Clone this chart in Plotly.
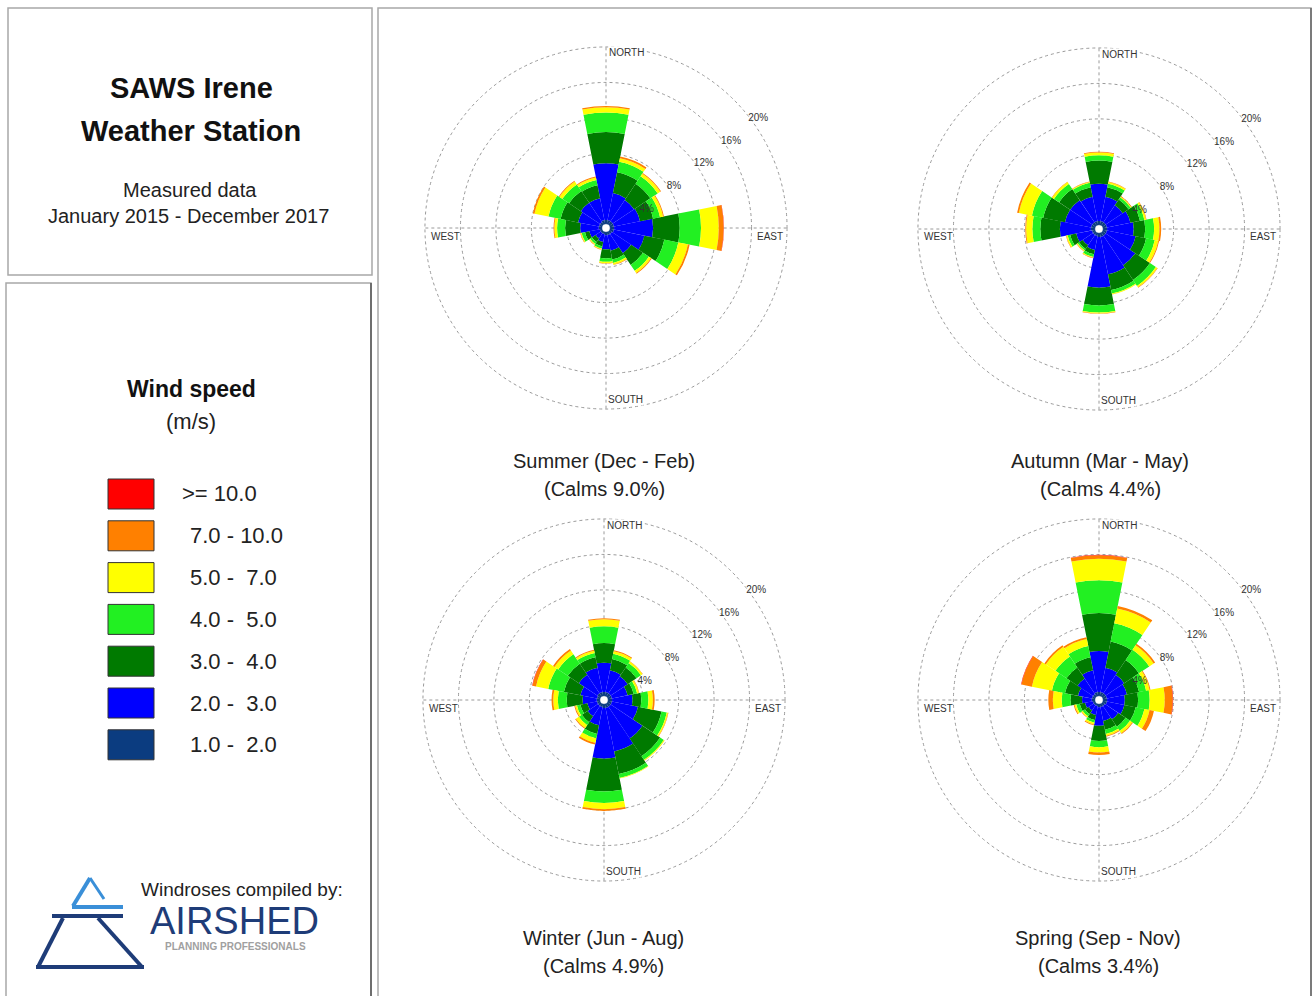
import plotly.graph_objects as go

W, H = 1314, 996

# ---------------- data ----------------
directions = ["N", "NNE", "NE", "ENE", "E", "ESE", "SE", "SSE",
              "S", "SSW", "SW", "WSW", "W", "WNW", "NW", "NNW"]

speed_labels = ["1.0 -  2.0", "2.0 -  3.0", "3.0 -  4.0", "4.0 -  5.0",
                "5.0 -  7.0", "7.0 - 10.0", ">= 10.0"]
speed_colors = ["#0b3c80", "#0000ff", "#007a00", "#22f022",
                "#ffff00", "#ff8000", "#ff0000"]

ring_values = [4, 8, 12, 16, 20]
ring_labels = ["4%", "8%", "12%", "16%", "20%"]

# frequency (%) per direction, per wind speed class
summer_1_2 = [0.5, 0.5, 0.5, 0.5, 0.5, 0.5, 0.4, 0.4, 0.4, 0.3, 0.3, 0.3, 0.4, 0.4, 0.4, 0.5]
summer_2_3 = [6.4, 3.1, 2.9, 3.0, 4.4, 3.5, 2.6, 1.8, 1.6, 0.9, 0.7, 1.2, 2.1, 2.4, 2.6, 2.5]
summer_3_4 = [3.5, 2.4, 2.2, 1.5, 3.0, 2.3, 1.6, 1.0, 1.0, 0.5, 0.5, 0.5, 1.7, 2.0, 1.6, 1.5]
summer_4_5 = [2.2, 1.2, 1.0, 0.8, 2.4, 1.6, 0.8, 0.4, 0.4, 0.25, 0.25, 0.4, 0.9, 1.4, 0.9, 0.6]
summer_5_7 = [0.6, 0.4, 0.35, 0.35, 2.0, 1.1, 0.3, 0.2, 0.15, 0.1, 0.1, 0.1, 0.3, 1.6, 0.4, 0.3]
summer_7_10 = [0.15, 0.2, 0.1, 0.1, 0.55, 0.2, 0.1, 0.05, 0.05, 0.05, 0.05, 0.05, 0.1, 0.2, 0.1, 0.1]
summer_10 = [0, 0, 0, 0, 0.03, 0, 0, 0, 0, 0, 0, 0, 0, 0, 0, 0]

autumn_1_2 = [0.5, 0.5, 0.5, 0.5, 0.5, 0.5, 0.5, 0.5, 0.5, 0.4, 0.4, 0.4, 0.5, 0.5, 0.5, 0.5]
autumn_2_3 = [4.2, 2.8, 2.3, 2.7, 3.0, 3.3, 4.0, 4.3, 5.7, 1.6, 1.4, 1.8, 3.5, 3.0, 3.0, 2.8]
autumn_3_4 = [2.6, 1.1, 0.8, 1.1, 1.3, 1.2, 2.0, 1.8, 2.0, 0.5, 0.5, 0.7, 2.2, 2.5, 1.5, 1.1]
autumn_4_5 = [0.6, 0.4, 0.3, 0.5, 1.0, 1.0, 0.8, 0.4, 0.8, 0.3, 0.2, 0.3, 0.9, 1.3, 0.7, 0.5]
autumn_5_7 = [0.3, 0.2, 0.1, 0.2, 0.6, 0.4, 0.2, 0.1, 0.1, 0.1, 0.1, 0.15, 0.7, 1.5, 0.25, 0.1]
autumn_7_10 = [0.1, 0.05, 0.05, 0.05, 0.2, 0.1, 0.05, 0.02, 0.05, 0.05, 0.05, 0.05, 0.1, 0.2, 0.05, 0.05]
autumn_10 = [0, 0, 0, 0, 0, 0, 0, 0, 0, 0, 0, 0, 0, 0, 0, 0]

winter_1_2 = [0.5, 0.5, 0.5, 0.5, 0.5, 0.5, 0.5, 0.5, 0.5, 0.4, 0.4, 0.4, 0.4, 0.4, 0.5, 0.5]
winter_2_3 = [3.3, 2.5, 2.3, 1.8, 2.3, 3.0, 4.3, 5.0, 5.7, 2.1, 1.4, 1.1, 1.6, 1.9, 2.5, 2.8]
winter_3_4 = [2.2, 1.3, 1.2, 0.7, 1.0, 2.7, 2.4, 2.6, 3.7, 1.0, 0.8, 0.8, 1.8, 1.9, 1.5, 1.2]
winter_4_5 = [1.9, 0.6, 0.6, 0.4, 0.8, 0.6, 0.5, 0.45, 1.3, 0.5, 0.4, 0.4, 1.0, 1.8, 1.3, 0.5]
winter_5_7 = [0.8, 0.3, 0.2, 0.2, 0.5, 0.15, 0.1, 0.05, 0.7, 0.5, 0.4, 0.2, 0.5, 1.4, 0.5, 0.25]
winter_7_10 = [0.1, 0.1, 0.05, 0.05, 0.2, 0.05, 0.02, 0.02, 0.2, 0.2, 0.1, 0.1, 0.2, 0.4, 0.2, 0.1]
winter_10 = [0, 0, 0, 0, 0, 0, 0, 0, 0, 0, 0, 0, 0, 0.05, 0, 0]

spring_1_2 = [0.5, 0.5, 0.5, 0.5, 0.5, 0.5, 0.4, 0.4, 0.4, 0.3, 0.3, 0.3, 0.4, 0.4, 0.4, 0.5]
spring_2_3 = [4.6, 2.8, 2.5, 2.3, 2.0, 2.0, 1.8, 1.6, 2.1, 1.0, 0.7, 0.9, 1.1, 1.6, 2.1, 2.5]
spring_3_4 = [4.3, 3.0, 2.0, 1.4, 1.5, 1.3, 1.0, 1.0, 1.7, 0.6, 0.5, 0.6, 1.3, 1.5, 1.5, 1.5]
spring_4_5 = [3.7, 2.1, 1.4, 0.8, 1.3, 1.0, 0.6, 0.5, 0.7, 0.3, 0.3, 0.4, 1.0, 1.5, 1.5, 1.3]
spring_5_7 = [2.4, 1.7, 0.6, 0.4, 1.7, 0.6, 0.3, 0.2, 0.6, 0.2, 0.15, 0.2, 1.0, 2.3, 1.3, 0.8]
spring_7_10 = [0.4, 0.3, 0.2, 0.1, 0.9, 0.5, 0.1, 0.1, 0.3, 0.1, 0.05, 0.1, 0.5, 1.2, 0.2, 0.2]
spring_10 = [0.05, 0, 0, 0, 0.05, 0, 0, 0, 0, 0, 0, 0, 0, 0.05, 0, 0]

season_titles = ["Summer (Dec - Feb)", "Autumn (Mar - May)", "Winter (Jun - Aug)", "Spring (Sep - Nov)"]
season_calms = ["(Calms 9.0%)", "(Calms 4.4%)", "(Calms 4.9%)", "(Calms 3.4%)"]

seasons = [
    [summer_1_2, summer_2_3, summer_3_4, summer_4_5, summer_5_7, summer_7_10, summer_10],
    [autumn_1_2, autumn_2_3, autumn_3_4, autumn_4_5, autumn_5_7, autumn_7_10, autumn_10],
    [winter_1_2, winter_2_3, winter_3_4, winter_4_5, winter_5_7, winter_7_10, winter_10],
    [spring_1_2, spring_2_3, spring_3_4, spring_4_5, spring_5_7, spring_7_10, spring_10],
]

# ---------------- layout helpers ----------------
FONT = "Liberation Sans, Arial, sans-serif"


def X(px):
    return px / W


def Y(py):
    return 1 - py / H


R20 = 181                 # pixel radius of the 20 % ring
RMAX = 20.25              # radial range end (so the 20 % ring is drawn as a grid line)
R = R20 * RMAX / 20       # pixel radius of the polar domain
AXIS_ANGLE = 40
centers = [(606, 228), (1099, 229), (604, 700), (1099, 700)]
caption_pos = [(604, 461), (1100, 461), (603, 938), (1098, 938)]

sector = 360 / len(directions)
theta = [i * sector for i in range(len(directions))]

fig = go.Figure()
annotations = []
shapes = []

for k, (cx, cy) in enumerate(centers):
    pid = "polar" if k == 0 else f"polar{k + 1}"
    for cls, vals in enumerate(seasons[k]):
        fig.add_trace(go.Barpolar(
            r=vals, theta=theta, width=[sector] * len(directions),
            marker=dict(color=speed_colors[cls], line=dict(width=0)),
            name=speed_labels[cls], hovertext=directions,
            subplot=pid, showlegend=False,
        ))
    fig.layout[pid] = dict(
        domain=dict(x=[X(cx - R), X(cx + R)], y=[Y(cy + R), Y(cy - R)]),
        bgcolor="rgba(0,0,0,0)",
        hole=0.02,
        barmode="stack",
        radialaxis=dict(
            range=[0, RMAX], tickvals=ring_values, ticktext=ring_labels,
            angle=AXIS_ANGLE, side="clockwise", tickangle=AXIS_ANGLE, showline=False, ticks="",
            showgrid=True, gridcolor="#9a9a9a", griddash="dot", gridwidth=1,
            tickfont=dict(size=10, color="#333333", family=FONT),
            layer="above traces",
        ),
        angularaxis=dict(
            rotation=90, direction="clockwise", tickvals=[0, 90, 180, 270],
            showticklabels=False, ticks="", showgrid=True,
            gridcolor="#9a9a9a", griddash="dot", gridwidth=1, showline=False,
        ),
    )
    # compass labels
    lab_font = dict(size=10, color="#333333", family=FONT)
    annotations += [
        dict(x=X(cx + 2), y=Y(cy - R20 + 6), text="NORTH", xanchor="left", yanchor="middle", bgcolor="white"),
        dict(x=X(cx + 1), y=Y(cy + R20 - 10), text="SOUTH", xanchor="left", yanchor="middle", bgcolor="white"),
        dict(x=X(cx + R20 - 3), y=Y(cy + 8), text="EAST", xanchor="right", yanchor="middle"),
        dict(x=X(cx - R20 + 5), y=Y(cy + 8), text="WEST", xanchor="left", yanchor="middle"),
    ]
    for a in annotations[-4:]:
        a.update(xref="paper", yref="paper", showarrow=False, font=lab_font, borderpad=0)
    # captions
    px_, py_ = caption_pos[k]
    annotations.append(dict(x=X(px_), y=Y(py_), text=season_titles[k], xref="paper", yref="paper",
                            showarrow=False, xanchor="center", yanchor="middle",
                            font=dict(size=20, color="#222222", family=FONT)))
    annotations.append(dict(x=X(px_), y=Y(py_ + 28), text=season_calms[k], xref="paper", yref="paper",
                            showarrow=False, xanchor="center", yanchor="middle",
                            font=dict(size=20, color="#222222", family=FONT)))


# ---------------- panels ----------------
def rect(x0, y0, x1, y1, color, width=1.5):
    return dict(type="rect", xref="paper", yref="paper", x0=X(x0), x1=X(x1), y0=Y(y1), y1=Y(y0),
                line=dict(color=color, width=width), fillcolor="rgba(0,0,0,0)", layer="below")


def seg(x0, y0, x1, y1, color, width):
    return dict(type="line", xref="paper", yref="paper", x0=X(x0), x1=X(x1), y0=Y(y0), y1=Y(y1),
                line=dict(color=color, width=width))


shapes.append(rect(8, 8, 372, 275, "#a8a8a8"))
shapes.append(rect(6, 283, 371, 1000, "#a8a8a8"))
shapes.append(seg(371, 283, 371, 996, "#555555", 1.5))
shapes.append(rect(378, 8, 1311, 1000, "#a8a8a8"))
shapes.append(seg(1311, 8, 1311, 996, "#666666", 1.5))


def txt(x, y, s, size, bold=False, color="#111111", family=FONT, anchor="center"):
    t = f"<b>{s}</b>" if bold else s
    return dict(x=X(x), y=Y(y), text=t, xref="paper", yref="paper", showarrow=False,
                xanchor=anchor, yanchor="middle", font=dict(size=size, color=color, family=family))


annotations += [
    txt(191, 88, "SAWS Irene", 29, bold=True),
    txt(191, 131, "Weather Station", 29, bold=True),
    txt(190, 190, "Measured data", 20, color="#222222"),
    txt(188, 216, "January 2015 - December 2017", 20, color="#222222"),
    txt(191, 389, "Wind speed", 23, bold=True),
    txt(191, 422, "(m/s)", 22, color="#222222"),
]

# legend swatches (outer class first)
row0, row_step = 494, 41.8
for i, cls in enumerate(reversed(range(len(speed_labels)))):
    yc = row0 + i * row_step
    shapes.append(dict(type="rect", xref="paper", yref="paper", x0=X(108), x1=X(154),
                       y0=Y(yc + 15), y1=Y(yc - 15), fillcolor=speed_colors[cls],
                       line=dict(color="#333333", width=1)))
    annotations.append(txt(180 if speed_labels[cls].startswith(">") else 188, yc,
                           speed_labels[cls].replace("  ", " \u00a0"), 22,
                           color="#222222", anchor="left"))

# logo
shapes += [
    seg(90, 878, 73, 906, "#3a8fd8", 4),
    seg(90, 878, 104, 899, "#3a8fd8", 3),
    seg(72, 907, 123, 907, "#3a8fd8", 4),
    seg(52, 916, 123, 916, "#1e3c78", 4),
    seg(63, 918, 38, 967, "#1e3c78", 4),
    seg(98, 918, 142, 967, "#1e3c78", 4),
    seg(36, 967, 144, 967, "#1e3c78", 4),
]
annotations += [
    txt(242, 889, "Windroses compiled by:", 19, color="#222222"),
    txt(234, 921, "AIRSHED", 38, color="#1e3c78"),
    txt(235, 946, "<b>PLANNING PROFESSIONALS</b>", 10, color="#a0a0a0"),
]

fig.update_layout(
    width=W, height=H, margin=dict(l=0, r=0, t=0, b=0),
    paper_bgcolor="white", plot_bgcolor="white",
    font=dict(family=FONT),
    shapes=shapes, annotations=annotations, showlegend=False,
)

fig.write_html("out.html", config={"displayModeBar": False},
               post_script="document.body.style.margin='0';document.body.style.overflow='hidden';")
